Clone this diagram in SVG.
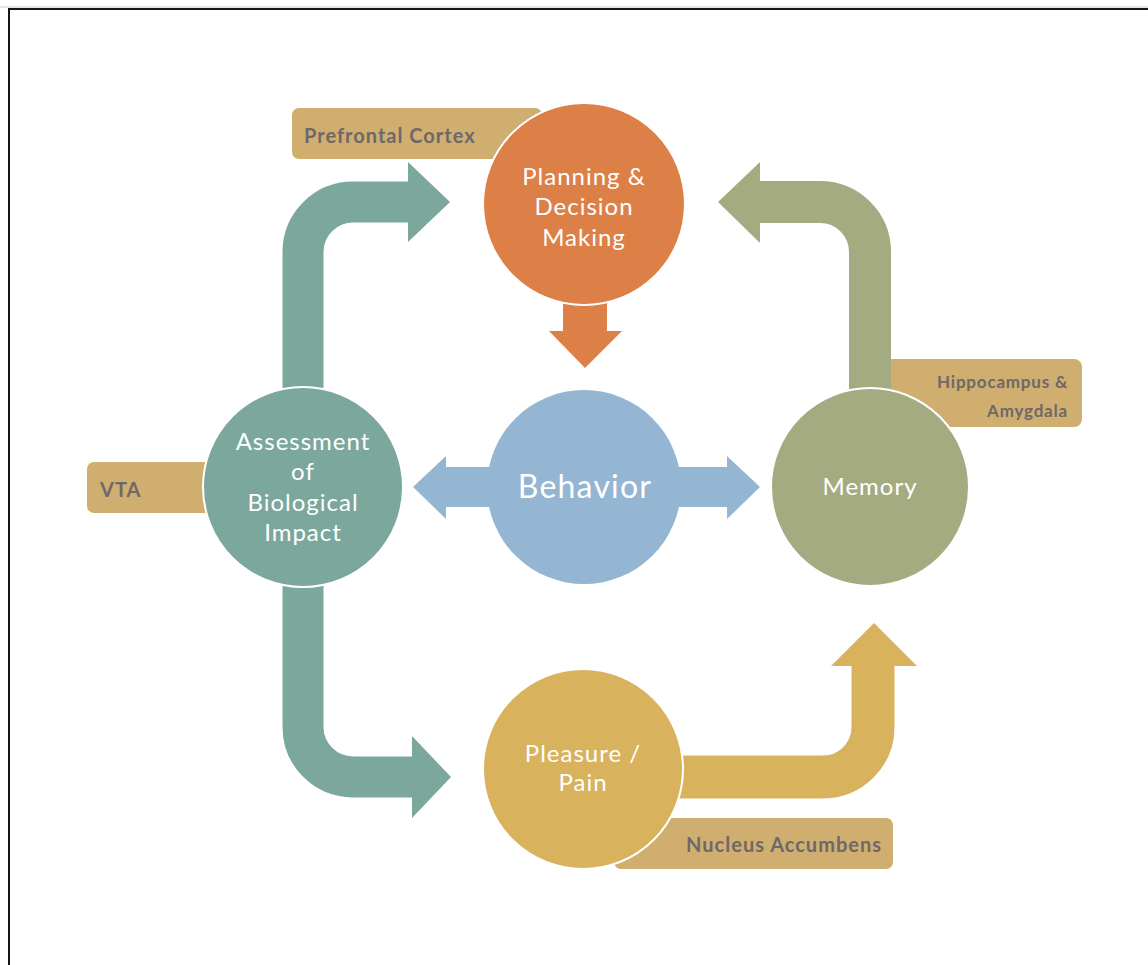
<svg xmlns="http://www.w3.org/2000/svg" width="1148" height="965" viewBox="0 0 1148 965">
  <style>
    .lbl { fill: #CFAE6F; }
    .lbl-text { font-family: Lato, "Noto Sans", sans-serif; font-size: 20px; font-weight: bold; letter-spacing: 1px; fill: #6e6868; }
    .lbl-small { font-size: 17px; letter-spacing: 0.8px; }
    .node-text { font-family: Lato, "Noto Sans", sans-serif; font-size: 24px; letter-spacing: 1px; fill: #ffffff; text-anchor: middle; }
    .node-big { font-size: 32px; letter-spacing: 1.2px; }
    .ring { stroke: #ffffff; stroke-width: 2; }
    .shaft { fill: none; stroke-linecap: butt; }
  </style>

  <rect x="0" y="0" width="1148" height="965" fill="#ffffff"/>
  <!-- outer frame -->
  <line x1="0" y1="7" x2="1148" y2="7" stroke="#c8c8c8" stroke-width="1"/>
  <rect x="9" y="9" width="1160" height="980" fill="none" stroke="#161616" stroke-width="2"/>

  <!-- region labels, sitting behind the circles -->
  <g id="label-prefrontal">
    <rect class="lbl" x="292" y="108" width="250" height="51" rx="7"/>
    <text class="lbl-text" x="304" y="143">Prefrontal Cortex</text>
  </g>
  <g id="label-hippocampus">
    <rect class="lbl" x="870" y="359" width="212" height="68" rx="8"/>
    <text class="lbl-text lbl-small" x="1068" y="388" text-anchor="end">Hippocampus &amp;</text>
    <text class="lbl-text lbl-small" x="1068" y="417" text-anchor="end">Amygdala</text>
  </g>
  <g id="label-vta">
    <rect class="lbl" x="87" y="462" width="150" height="51" rx="7"/>
    <text class="lbl-text" x="100" y="497">VTA</text>
  </g>
  <g id="label-nucleus">
    <rect class="lbl" x="614" y="818" width="279" height="51" rx="7"/>
    <text class="lbl-text" x="882" y="852" text-anchor="end">Nucleus Accumbens</text>
  </g>

  <!-- connectors -->
  <g id="connectors">
    <!-- assessment -> planning -->
    <path class="shaft" d="M303,400 V252 A50,50 0 0 1 353,202 H410" stroke="#7BA79D" stroke-width="41"/>
    <polygon points="408,162 450,202 408,242" fill="#7BA79D"/>
    <!-- assessment -> pleasure/pain -->
    <path class="shaft" d="M303,575 V727 A50,50 0 0 0 353,777 H414" stroke="#7BA79D" stroke-width="41"/>
    <polygon points="412,736 451,777 412,818" fill="#7BA79D"/>
    <!-- planning -> behavior -->
    <path class="shaft" d="M585,295 V333" stroke="#DD8047" stroke-width="44"/>
    <polygon points="549,331 622,331 585,368" fill="#DD8047"/>
    <!-- behavior, both ways -->
    <rect x="443" y="467" width="287" height="40" fill="#94B6D2"/>
    <polygon points="446,456 413,487 446,519" fill="#94B6D2"/>
    <polygon points="727,456 760,487 727,519" fill="#94B6D2"/>
    <!-- memory -> planning -->
    <path class="shaft" d="M870,400 V252 A50,50 0 0 0 820,202 H758" stroke="#A5AB81" stroke-width="42"/>
    <polygon points="760,162 718,202 760,243" fill="#A5AB81"/>
    <!-- pleasure/pain -> memory -->
    <path class="shaft" d="M670,777 H823 A50,50 0 0 0 873,727 V664" stroke="#D8B25C" stroke-width="43"/>
    <polygon points="831,666 874,623 917,666" fill="#D8B25C"/>
  </g>

  <!-- nodes -->
  <g id="node-planning">
    <circle class="ring" cx="584" cy="204" r="101" fill="#DD8047"/>
    <text class="node-text" x="584" y="185">Planning &amp;</text>
    <text class="node-text" x="584" y="215">Decision</text>
    <text class="node-text" x="584" y="246">Making</text>
  </g>
  <g id="node-behavior">
    <circle cx="584" cy="487" r="97" fill="#94B6D2"/>
    <text class="node-text node-big" x="585" y="498">Behavior</text>
  </g>
  <g id="node-assessment">
    <circle class="ring" cx="303" cy="487" r="100" fill="#7BA79D"/>
    <text class="node-text" x="303" y="450">Assessment</text>
    <text class="node-text" x="303" y="480">of</text>
    <text class="node-text" x="303" y="511">Biological</text>
    <text class="node-text" x="303" y="541">Impact</text>
  </g>
  <g id="node-memory">
    <circle class="ring" cx="870" cy="487" r="99" fill="#A5AB81"/>
    <text class="node-text" x="870" y="495">Memory</text>
  </g>
  <g id="node-pleasure">
    <circle class="ring" cx="583" cy="769" r="100" fill="#D8B25C"/>
    <text class="node-text" x="583" y="762">Pleasure /</text>
    <text class="node-text" x="583" y="791">Pain</text>
  </g>
</svg>
